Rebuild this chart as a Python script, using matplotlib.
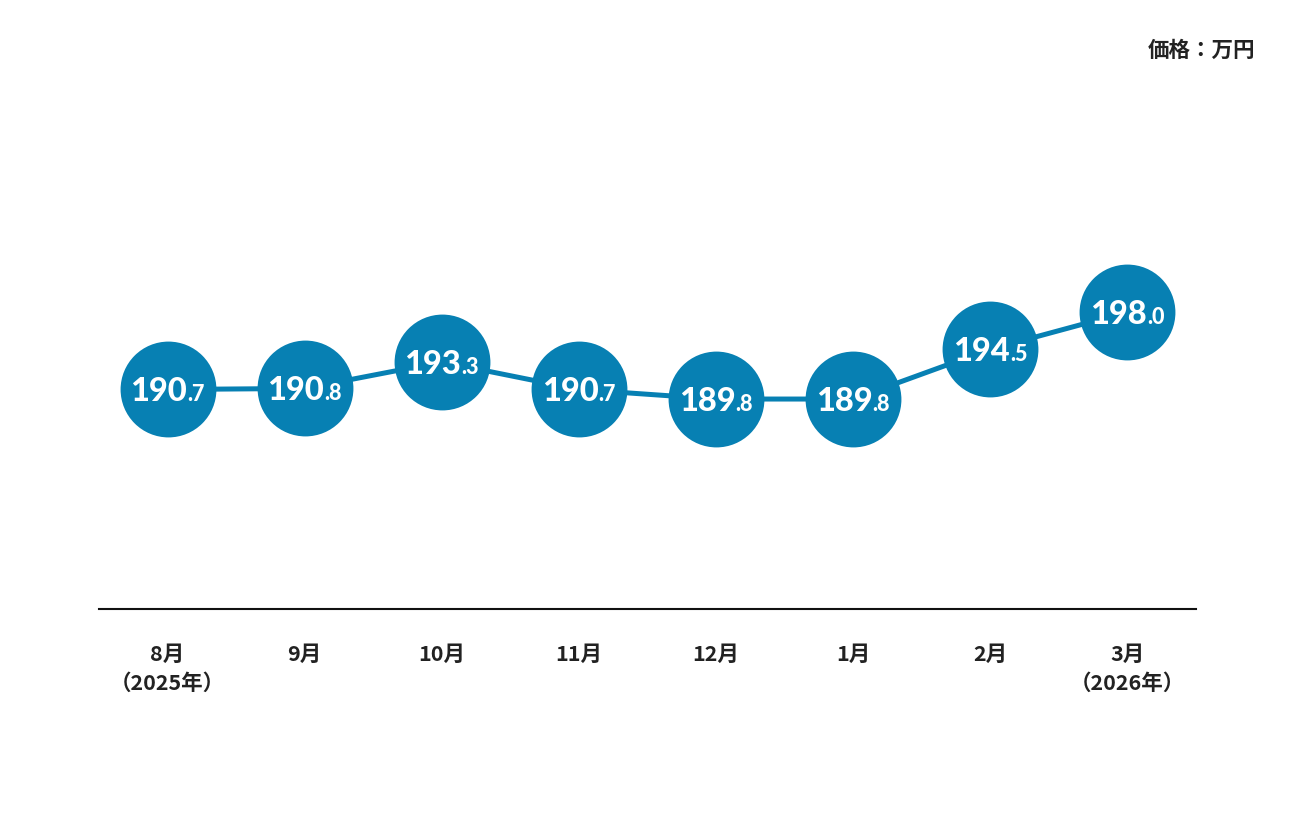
import matplotlib
matplotlib.use("Agg")
import matplotlib.pyplot as plt

plt.rcParams['font.family'] = ['Noto Sans CJK JP', 'DejaVu Sans']

months = ['8月\n（2025年）', '9月', '10月', '11月', '12月', '1月', '2月', '3月\n（2026年）']
prices = [190.7, 190.8, 193.3, 190.7, 189.8, 189.8, 194.5, 198.0]
unit_label = '価格：万円'

blue = '#0780b3'

fig = plt.figure(figsize=(12.96, 8.16), dpi=100)
ax = fig.add_axes([99 / 1296, 207 / 816, 1097 / 1296, 509 / 816])

x = list(range(len(prices)))
ax.plot(x, prices, color=blue, linewidth=3.6, zorder=1, solid_capstyle='butt')
ax.plot(x, prices, 'o', color=blue, markersize=69, markeredgewidth=0, zorder=2)

# big integer part + small decimal part, sharing a baseline
for xi, v in zip(x, prices):
    whole, dec = f'{v:.1f}'.split('.')
    ax.annotate(whole, (xi, v), xytext=(14, -8.5), textcoords='offset points',
                ha='right', va='baseline', color='white', fontsize=23.5,
                fontweight='black', family='Lato', zorder=3)
    ax.annotate('.' + dec, (xi, v), xytext=(14, -8.5), textcoords='offset points',
                ha='left', va='baseline', color='white', fontsize=15.5,
                fontweight='black', family='Lato', zorder=3)

ax.set_xlim(-0.5, 7.5)
ax.set_ylim(170, 218)
ax.set_xticks(x)
ax.set_xticklabels(months, fontsize=15.5, fontweight='bold', color='#222222',
                   linespacing=1.45, va='top')
ax.tick_params(axis='x', length=0, pad=25)
ax.set_yticks([])
for s in ['top', 'right', 'left']:
    ax.spines[s].set_visible(False)
ax.spines['bottom'].set_linewidth(1.5)
ax.spines['bottom'].set_color('#111111')

fig.text(1255 / 1296, 1 - 50 / 816, unit_label, ha='right', va='center',
         fontsize=15.5, fontweight='bold', color='#222222')

fig.savefig('out.png', dpi=100, facecolor='white')
